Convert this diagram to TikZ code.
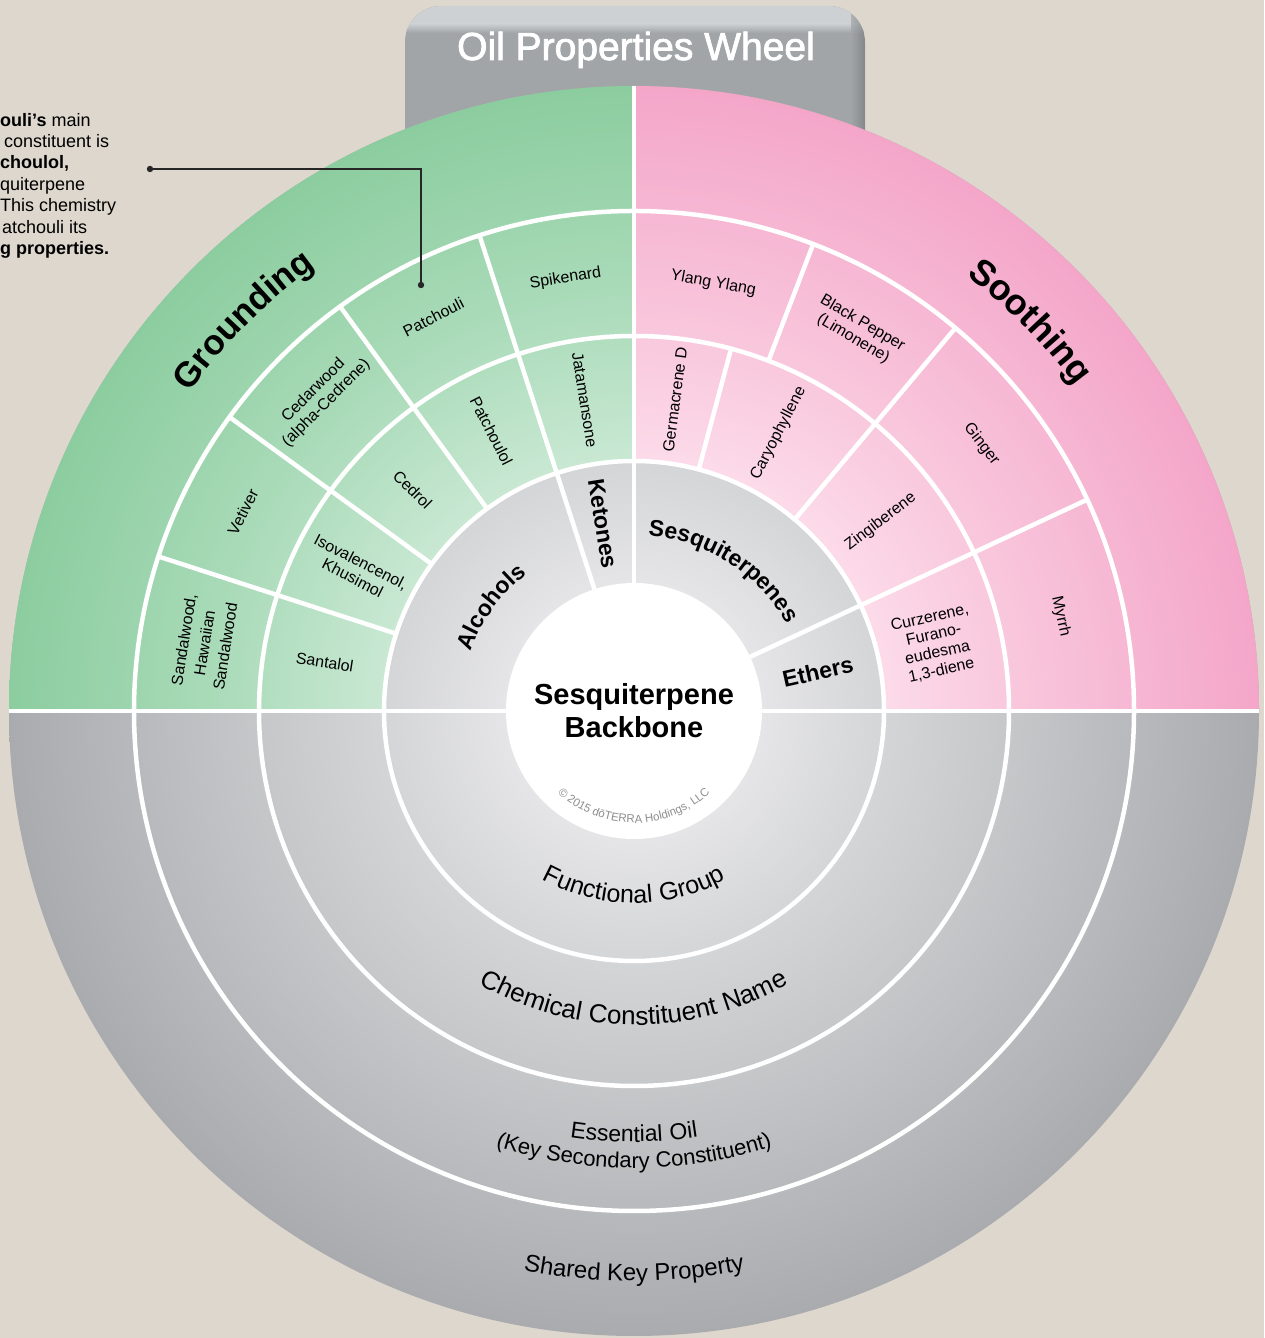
\documentclass[tikz,border=0pt]{standalone}
\usepackage{fontspec}
\setmainfont{Liberation Sans}
\usetikzlibrary{decorations.text}
\definecolor{bgc}{HTML}{DED7CD}
\definecolor{tabdark}{HTML}{A2A5A8}
\definecolor{tablight}{HTML}{CED1D3}
\definecolor{g0}{HTML}{F2F2F3}
\definecolor{g1}{HTML}{E5E5E7}
\definecolor{g2}{HTML}{D4D5D7}
\definecolor{g3}{HTML}{C6C7C9}
\definecolor{g4}{HTML}{B8B9BC}
\definecolor{g5}{HTML}{A9ABAE}
\definecolor{gr2}{HTML}{C9E8D3}
\definecolor{gr3}{HTML}{B1DEBF}
\definecolor{gr4}{HTML}{9DD5AE}
\definecolor{gr5}{HTML}{8CCD9F}
\definecolor{pk2}{HTML}{FCDBE9}
\definecolor{pk3}{HTML}{F9C8DD}
\definecolor{pk4}{HTML}{F6B7D3}
\definecolor{pk5}{HTML}{F4A6C9}
\definecolor{copyc}{HTML}{8E8E90}
\pgfdeclareradialshading{grayrad}{\pgfpoint{0bp}{0bp}}{color(0bp)=(g0); color(5.12bp)=(g1); color(10bp)=(g2); color(15bp)=(g3); color(20bp)=(g4); color(25bp)=(g5); color(50bp)=(g5)}
\pgfdeclareradialshading{greenrad}{\pgfpoint{0bp}{0bp}}{color(0bp)=(gr2); color(10bp)=(gr2); color(15bp)=(gr3); color(20bp)=(gr4); color(25bp)=(gr5); color(50bp)=(gr5)}
\pgfdeclareradialshading{pinkrad}{\pgfpoint{0bp}{0bp}}{color(0bp)=(pk2); color(10bp)=(pk2); color(15bp)=(pk3); color(20bp)=(pk4); color(25bp)=(pk5); color(50bp)=(pk5)}
\tikzset{
  wline/.style={white, line width=4.5pt},
  lab/.style={font=\fontsize{16}{18}\selectfont, align=center, inner sep=0pt},
  fglab/.style={font=\bfseries\fontsize{23}{23}\selectfont, inner sep=0pt},
  lefttxt/.style={font=\fontsize{18}{18}\selectfont, anchor=base west, inner sep=0pt},
  leader/.style={line width=1.6pt, draw=black!85}
}
\begin{document}
\begin{tikzpicture}[x=1pt,y=1pt]
\useasboundingbox (0,0) rectangle (1264,1338);
\fill[bgc] (0,0) rectangle (1264,1338);
% tab
\begin{scope}
\clip[rounded corners=36pt] (405,1038) rectangle (865,1332);
\fill[tabdark] (405,1038) rectangle (865,1332);
\fill[tablight] (405,1314) rectangle (865,1332);
\shade[top color=tablight,bottom color=tabdark] (405,1305) rectangle (865,1314.5);
\shade[left color=tabdark, right color=tabdark!75!black, opacity=0.7] (851,1038) rectangle (865,1332);
\end{scope}
\node[font=\addfontfeature{FakeBold=2}\fontsize{39}{39}\selectfont, text=white, anchor=base, inner sep=0pt] (title) at (636,1278) {Oil Properties Wheel};
% wheel
\begin{scope}[shift={(634,627)}]
\shade[shading=grayrad] (0,0) circle (625pt);
\begin{scope}
\clip (90:250pt) -- (90:625pt) arc[start angle=90,end angle=180,radius=625pt] -- (180:250pt) arc[start angle=180,end angle=90,radius=250pt] -- cycle;
\shade[shading=greenrad] (0,0) circle (625pt);
\end{scope}
\begin{scope}
\clip (0:250pt) -- (0:625pt) arc[start angle=0,end angle=90,radius=625pt] -- (90:250pt) arc[start angle=90,end angle=0,radius=250pt] -- cycle;
\shade[shading=pinkrad] (0,0) circle (625pt);
\end{scope}
% white lines
\draw[wline] (0,0) circle (250pt) (0,0) circle (375pt) (0,0) circle (500pt);
\draw[wline] (180:128pt) -- (180:625pt) (0:128pt) -- (0:625pt) (90:128pt) -- (90:625pt);
\draw[wline] (108:128pt) -- (108:500pt) (126:250pt) -- (126:500pt) (144:250pt) -- (144:500pt) (162:250pt) -- (162:500pt);
\draw[wline] (75:250pt) -- (75:375pt) (69:375pt) -- (69:500pt) (50:250pt) -- (50:500pt) (25:128pt) -- (25:500pt);
\fill[white] (0,0) circle (128pt);
% center
\node[font=\bfseries\fontsize{29}{33}\selectfont, align=center, inner sep=0pt] (core) at (0,0) {Sesquiterpene\\Backbone};
\path[decorate, decoration={text along path, text align=center, text={|\color{copyc}\fontsize{11.5}{11.5}\selectfont|© 2015 dōTERRA Holdings, LLC}}] (215:112pt) arc[start angle=215,end angle=325,radius=112pt];
% functional group ring
\path[decorate, decoration={text along path, text align=center, text={|\bfseries\fontsize{23}{23}\selectfont|Alcohols}}] (180:174pt) arc[start angle=180,end angle=108,radius=174pt];
\path[decorate, decoration={text along path, text align=center, text={|\bfseries\fontsize{23}{23}\addfontfeature{LetterSpace=9}\selectfont|Sesquiterpenes}}] (90:176pt) arc[start angle=90,end angle=25,radius=176pt];
\node[fglab, rotate=-81] (ketones) at (99.5:190pt) {Ketones};
\node[fglab, rotate=12.5] (ethers) at (12:188pt) {Ethers};
% chemical constituents
\node[lab, rotate=-9] (santalol) at (171:313pt) {Santalol};
\node[lab, rotate=-27] (isoval) at (153:311pt) {Isovalencenol,\\Khusimol};
\node[lab, rotate=-45] (cedrol) at (135:313pt) {Cedrol};
\node[lab, rotate=-63] (patchoulol) at (117:314pt) {Patchoulol};
\node[lab, rotate=-81] (jatamansone) at (99:315pt) {Jatamansone};
\node[lab, rotate=82.5] (germacrene) at (82.5:314pt) {Germacrene D};
\node[lab, rotate=62.5] (caryo) at (62.5:313pt) {Caryophyllene};
\node[lab, rotate=37.5] (zingib) at (37.5:311pt) {Zingiberene};
\node[lab, rotate=12.5] (curzerene) at (12.5:309pt) {Curzerene,\\Furano-\\eudesma\\1,3-diene};
% essential oils
\node[lab, rotate=81, font=\fontsize{16}{21}\selectfont] (sandal) at (171:435pt) {Sandalwood,\\Hawaiian\\Sandalwood};
\node[lab, rotate=63] (vetiver) at (153:439pt) {Vetiver};
\node[lab, rotate=45] (cedarwood) at (135:444pt) {Cedarwood\\(alpha-Cedrene)};
\node[lab, rotate=27] (patchouli) at (117:442pt) {Patchouli};
\node[lab, rotate=9] (spikenard) at (99:438pt) {Spikenard};
\node[lab, rotate=-10.5] (ylang) at (79.5:435pt) {Ylang Ylang};
\node[lab, rotate=-30.5] (blackpepper) at (59.5:441pt) {Black Pepper\\(Limonene)};
\node[lab, rotate=-52.5] (ginger) at (37.5:438pt) {Ginger};
\node[lab, rotate=-77.5] (myrrh) at (12.5:437pt) {Myrrh};
% shared key properties
\path[decorate, decoration={text along path, text align=center, text={|\bfseries\fontsize{35}{35}\selectfont|Grounding}}] (180:547pt) arc[start angle=180,end angle=90,radius=547pt];
\path[decorate, decoration={text along path, text align=center, text={|\bfseries\fontsize{36}{36}\selectfont|Soothing}}] (89.5:548pt) arc[start angle=89.5,end angle=-0.5,radius=548pt];
% lower half ring titles
\path[decorate, decoration={text along path, text align=center, text={|\fontsize{25}{25}\addfontfeature{LetterSpace=3}\selectfont|Functional Group}}] (200:192pt) arc[start angle=200,end angle=340,radius=192pt];
\path[decorate, decoration={text along path, text align=center, text={|\fontsize{26}{26}\addfontfeature{LetterSpace=2}\selectfont|Chemical Constituent Name}}] (200:314pt) arc[start angle=200,end angle=340,radius=314pt];
\path[decorate, decoration={text along path, text align=center, text={|\fontsize{23}{23}\addfontfeature{LetterSpace=4}\selectfont|Essential Oil}}] (220:431pt) arc[start angle=220,end angle=320,radius=431pt];
\path[decorate, decoration={text along path, text align=center, text={|\fontsize{22}{22}\selectfont|(Key Secondary Constituent)}}] (220:457pt) arc[start angle=220,end angle=320,radius=457pt];
\path[decorate, decoration={text along path, text align=center, text={|\fontsize{24}{24}\selectfont|Shared Key Property}}] (230:570pt) arc[start angle=230,end angle=310,radius=570pt];
\end{scope}
% side note
\node[lefttxt] (n1) at (0,1211) {\textbf{ouli’s} main};
\node[lefttxt] (n2) at (4,1190) {constituent is};
\node[lefttxt] (n3) at (0,1169) {\textbf{choulol,}};
\node[lefttxt] (n4) at (0,1147) {quiterpene};
\node[lefttxt] (n5) at (0,1126) {This chemistry};
\node[lefttxt] (n6) at (2,1104) {atchouli its};
\node[lefttxt] (n7) at (0,1083) {\textbf{g properties.}};
\coordinate (ldA) at (150,1169);
\coordinate (ldB) at (421,1053);
\draw[leader] (ldA) -| (ldB);
\fill[black!85] (ldA) circle (3.2pt);
\fill[black!85] (ldB) circle (3.2pt);
\end{tikzpicture}
\end{document}
